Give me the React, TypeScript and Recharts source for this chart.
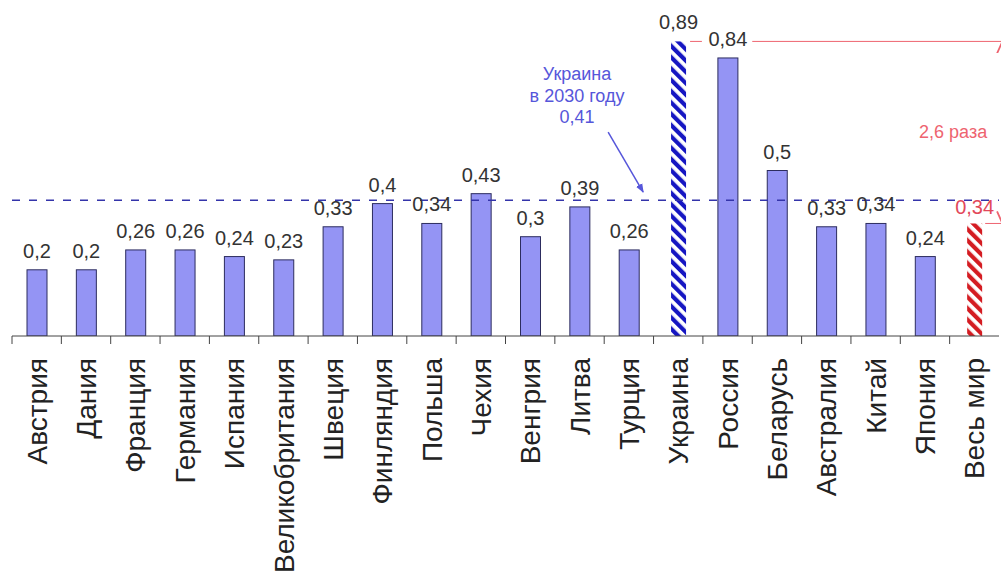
import React from 'react';
import { BarChart, Bar, XAxis, YAxis, ReferenceLine, ReferenceDot, LabelList } from 'recharts';

// Energy intensity by country
const countries = [
  'Австрия', 'Дания', 'Франция', 'Германия', 'Испания', 'Великобритания', 'Швеция',
  'Финляндия', 'Польша', 'Чехия', 'Венгрия', 'Литва', 'Турция', 'Украина', 'Россия',
  'Беларусь', 'Австралия', 'Китай', 'Япония', 'Весь мир',
];
const intensity = [
  0.2, 0.2, 0.26, 0.26, 0.24, 0.23, 0.33, 0.4, 0.34, 0.43,
  0.3, 0.39, 0.26, 0.89, 0.84, 0.5, 0.33, 0.34, 0.24, 0.34,
];
const ukraineName = 'Украина';
const worldName = 'Весь мир';
const ukraine2030 = 0.41;
const forecastLines = ['Украина', 'в 2030 году', '0,41'];
const ratioText = '2,6 раза';

// slot = index of the category slot centre on a continuous 0..N scale
const data = countries.map((name, i) => ({ name, value: intensity[i], slot: i + 0.5 }));
const ukraineValue = intensity[countries.indexOf(ukraineName)];
const worldValue = intensity[countries.indexOf(worldName)];

const FONT = '"Liberation Sans", Arial, sans-serif';
const BAR_FILL = '#9494f4';
const BAR_STROKE = '#2c2c5e';
const RED = '#ee6470';
const BLUE_NOTE = '#5656da';

const fmt = (v: number) => String(v).replace('.', ',');

const CategoryTick = (props: any) => {
  const { x, y, payload } = props;
  const half = payload && payload.offset != null ? payload.offset : 24.675;
  return (
    <g>
      <line x1={x - half} x2={x - half} y1={y} y2={y + 8} stroke="#444" strokeWidth={1} />
      <text
        transform={`translate(${x},${y + 22}) rotate(-90)`}
        textAnchor="end"
        dy="0.36em"
        fontSize={28}
        fontFamily={FONT}
        fill="#222"
      >
        {payload.value}
      </text>
    </g>
  );
};

const renderBar = (props: any) => {
  const { x, y, width, height, payload } = props;
  const name = payload?.name;
  if (name === ukraineName || name === worldName) {
    const w = 15;
    const id = name === ukraineName ? 'hatchBlue' : 'hatchRed';
    return <rect x={x + (width - w) / 2} y={y} width={w} height={height} fill={`url(#${id})`} />;
  }
  return (
    <rect x={x} y={y} width={width} height={height} fill={BAR_FILL} stroke={BAR_STROKE} strokeWidth={1} />
  );
};

const renderValueLabel = (props: any) => {
  const vb = props.viewBox || props;
  const x = vb.x ?? props.x;
  const y = vb.y ?? props.y;
  const width = vb.width ?? props.width;
  const name = data[props.index]?.name;
  const isWorld = name === worldName;
  return (
    <text
      x={x + width / 2}
      y={y - (isWorld ? 9 : 12)}
      textAnchor="middle"
      fontSize={20}
      fontFamily={FONT}
      fill={isWorld ? '#e2485a' : '#333'}
    >
      {fmt(props.value)}
    </text>
  );
};

// annotation positions in slot units (category i spans [i, i + 1])
const redLineStart = 13.74;
const russiaGapStart = 13.98;
const russiaGapEnd = 15.0;
const bracketX = 20.07;
const worldTickStart = 19.72;
const noteX = 11.45;
const noteY = [0.773, 0.707, 0.643];
const arrowFrom = { x: 12.08, y: 0.616 };
const arrowTo = { x: 12.79, y: 0.435 };
const ratioPos = { x: 19.07, y: 0.598 };

const textShape = (txt: string, color: string, size: number) => (p: any) => (
  <text x={p.cx} y={p.cy} textAnchor="middle" fontSize={size} fontFamily={FONT} fill={color}>
    {txt}
  </text>
);

export default function App() {
  const n = countries.length;
  return (
    <div style={{ width: 1001, height: 573, overflow: 'hidden', background: '#fff' }}>
      <style>{'body{margin:0;background:#fff;}'}</style>
      <BarChart
        width={1001}
        height={573}
        data={data}
        margin={{ top: 5, right: 2, left: 12, bottom: 0 }}
      >
        <defs>
          <pattern id="hatchBlue" patternUnits="userSpaceOnUse" width="8" height="8" patternTransform="rotate(-45)">
            <rect width="8" height="8" fill="#ffffff" />
            <rect width="4.2" height="8" fill="#1616c2" />
          </pattern>
          <pattern id="hatchRed" patternUnits="userSpaceOnUse" width="8" height="8" patternTransform="rotate(-45)">
            <rect width="8" height="8" fill="#ffffff" />
            <rect width="4.2" height="8" fill="#d41c22" />
          </pattern>
          <marker id="arrowBlue" viewBox="0 0 10 10" refX="9" refY="5" markerWidth="9" markerHeight="9" orient="auto-start-reverse" markerUnits="userSpaceOnUse">
            <path d="M0,1 L10,5 L0,9 z" fill={BLUE_NOTE} />
          </marker>
          <marker id="arrowRed" viewBox="0 0 10 10" refX="10" refY="5" markerWidth="12" markerHeight="12" orient="auto-start-reverse" markerUnits="userSpaceOnUse">
            <path d="M0,0.5 L10,5 L0,9.5" fill="none" stroke={RED} strokeWidth="1.5" />
          </marker>
        </defs>
        <XAxis
          xAxisId="cat"
          dataKey="name"
          interval={0}
          height={237}
          tickSize={0}
          tickMargin={0}
          tickLine={false}
          tick={<CategoryTick />}
          axisLine={{ stroke: '#444', strokeWidth: 1 }}
        />
        <XAxis xAxisId="num" dataKey="slot" type="number" domain={[0, n]} hide allowDataOverflow />
        <YAxis hide domain={[0, 1]} allowDataOverflow />
        <Bar xAxisId="cat" dataKey="value" barSize={20} shape={renderBar} isAnimationActive={false}>
          <LabelList dataKey="value" content={renderValueLabel} />
        </Bar>
        <ReferenceLine
          xAxisId="cat"
          y={ukraine2030}
          stroke="#3434aa"
          strokeWidth={1.5}
          strokeDasharray="8 9"
        />
        {/* Ukraine vs world comparison bracket */}
        <ReferenceLine
          xAxisId="num"
          ifOverflow="visible"
          segment={[{ x: redLineStart, y: ukraineValue }, { x: russiaGapStart, y: ukraineValue }]}
          stroke={RED}
          strokeWidth={1}
        />
        <ReferenceLine
          xAxisId="num"
          ifOverflow="visible"
          segment={[{ x: russiaGapEnd, y: ukraineValue }, { x: bracketX, y: ukraineValue }]}
          stroke={RED}
          strokeWidth={1}
        />
        <ReferenceLine
          xAxisId="num"
          ifOverflow="visible"
          segment={[{ x: worldTickStart, y: worldValue }, { x: bracketX, y: worldValue }]}
          stroke={RED}
          strokeWidth={1}
        />
        <ReferenceLine
          xAxisId="num"
          ifOverflow="visible"
          segment={[{ x: bracketX, y: ukraineValue }, { x: bracketX, y: worldValue }]}
          shape={(p: any) => (
            <line
              x1={p.x1}
              y1={p.y1}
              x2={p.x2}
              y2={p.y2}
              stroke={RED}
              strokeWidth={1}
              markerStart="url(#arrowRed)"
              markerEnd="url(#arrowRed)"
            />
          )}
        />
        <ReferenceDot
          xAxisId="num"
          ifOverflow="visible"
          x={ratioPos.x}
          y={ratioPos.y}
          shape={textShape(ratioText, RED, 18)}
        />
        {/* 2030 forecast note */}
        {forecastLines.map((line, i) => (
          <ReferenceDot
            key={line}
            xAxisId="num"
            ifOverflow="visible"
            x={noteX}
            y={noteY[i]}
            shape={textShape(line, BLUE_NOTE, 18)}
          />
        ))}
        <ReferenceLine
          xAxisId="num"
          ifOverflow="visible"
          segment={[arrowFrom, arrowTo]}
          shape={(p: any) => (
            <line
              x1={p.x1}
              y1={p.y1}
              x2={p.x2}
              y2={p.y2}
              stroke={BLUE_NOTE}
              strokeWidth={1.5}
              markerEnd="url(#arrowBlue)"
            />
          )}
        />
      </BarChart>
    </div>
  );
}
